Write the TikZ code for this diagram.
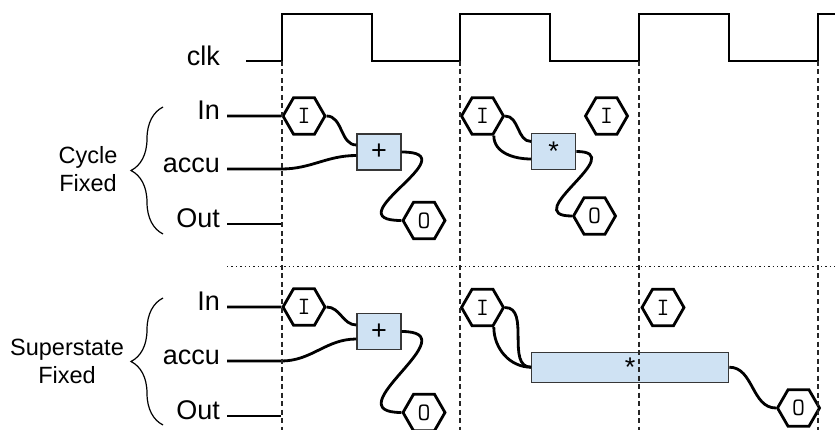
\documentclass[tikz,border=0pt]{standalone}
\usepackage{fontspec}
\setmainfont{Liberation Sans}
\usetikzlibrary{shapes.geometric,decorations.pathreplacing}
\definecolor{opfill}{RGB}{207,226,243}
\definecolor{opdraw}{RGB}{55,55,55}

\begin{document}
\begin{tikzpicture}[x=1pt,y=1pt,
		sig/.style={anchor=east,inner xsep=7pt,inner ysep=0pt,text height=0.72em,text depth=0pt,font=\fontsize{27}{30}\selectfont},
		grp/.style={align=center,inner sep=0pt,font=\fontsize{23.5}{28}\selectfont},
		hex/.style={regular polygon,regular polygon sides=6,minimum size=42pt,inner sep=0pt,draw,line width=2.8pt,fill=white,font=\ttfamily\fontsize{25}{25}\selectfont},
		opbox/.style={draw=opdraw,fill=opfill,line width=1.2pt,minimum width=44pt,minimum height=36pt,inner sep=0pt,font=\fontsize{27}{27}\selectfont},
		wire/.style={line width=2.8pt},
		cycline/.style={line width=1.3pt,dash pattern=on 5pt off 3.5pt,black!85},
		sepline/.style={line width=1.4pt,dash pattern=on 1.4pt off 3pt,black!90},
		grpbrace/.style={line width=1.2pt,decorate,decoration={brace,amplitude=32pt}}]
	\useasboundingbox (0,0) rectangle (835,-430);

	\node[sig] (clk) at (227,-61.5) {clk};
	\node[sig] (inA) at (227,-116) {In};
	\node[sig] (accuA) at (227,-169) {accu};
	\node[sig] (outA) at (227,-224) {Out};
	\node[sig] (inB) at (227,-307) {In};
	\node[sig] (accuB) at (227,-361) {accu};
	\node[sig] (outB) at (227,-416) {Out};

	\node[grp] (cycle) at (88,-169) {Cycle\\Fixed};
	\node[grp] (super) at (67,-361) {Superstate\\Fixed};
	\draw[grpbrace] (163,-234) -- (163,-107);
	\draw[grpbrace] (163,-425) -- (163,-298);

	\draw[wire] (246,-61) -- (282,-61) -- (282,-14) -- (372,-14) -- (372,-61)
		-- (460,-61) -- (460,-14) -- (550,-14) -- (550,-61)
		-- (639,-61) -- (639,-14) -- (729,-14) -- (729,-61)
		-- (818,-61) -- (818,-14) -- (836,-14);

	\node[opbox] (addA) at (379,-152) {+};
	\node[opbox] (mulA) at (553.7,-151.5) {*\hspace{8pt}};
	\node[opbox] (addB) at (379,-331.5) {+};
	\node[opbox,minimum width=197pt,minimum height=30pt] (mulB) at (630.2,-367.2) {*};

	\node[hex] (iA) at (304,-116) {I};
	\node[hex] (oA) at (424,-220.5) {O};
	\node[hex] (iB) at (482.5,-116) {I};
	\node[hex] (iC) at (606.5,-116) {I};
	\node[hex] (oB) at (594.5,-216) {O};
	\node[hex] (iD) at (304,-307) {I};
	\node[hex] (oC) at (424,-412.5) {O};
	\node[hex] (iE) at (482.5,-307.5) {I};
	\node[hex] (iF) at (663,-307.5) {I};
	\node[hex] (oD) at (798.5,-408) {O};

	\draw[wire] (inA.east) -- (iA.west);
	\draw[wire] (iA.east) to[out=0,in=180] ([yshift=7pt]addA.west);
	\draw[wire] (accuA.east) -- (accuA.east -| iA.west) to[out=0,in=180] ([yshift=-3.5pt]addA.west);
	\draw[wire] (addA.east) to[out=0,in=180,distance=70pt] (oA.west);
	\draw[wire] (outA.east) -- (outA.east -| iA.west);
	\draw[wire] (iB.east) to[out=0,in=180] ([yshift=10pt]mulA.west);
	\draw[wire] (iB.-60) to[out=-90,in=180] ([yshift=-7.5pt]mulA.west);
	\draw[wire] (mulA.east) to[out=0,in=180,distance=55pt] (oB.west);

	\draw[wire] (inB.east) -- (iD.west);
	\draw[wire] (iD.east) to[out=0,in=180] ([yshift=6.5pt]addB.west);
	\draw[wire] (accuB.east) -- (accuB.east -| iD.west) to[out=0,in=180] ([yshift=-7.5pt]addB.west);
	\draw[wire] (addB.east) to[out=0,in=180,distance=70pt] (oC.west);
	\draw[wire] (outB.east) -- (outB.east -| iD.west);
	\draw[wire] (iE.east) to[out=0,in=180] (mulB.west);
	\draw[wire] (iE.-60) to[out=-90,in=180] (mulB.west);
	\draw[wire] (mulB.east) to[out=0,in=180] (oD.west);

	\draw[sepline] (227,-266.7) -- (835,-266.7);
	\draw[cycline] (282,-61) -- (282,-430)
		(460,-61) -- (460,-430)
		(639,-61) -- (639,-430)
		(818,-61) -- (818,-430);
\end{tikzpicture}
\end{document}
